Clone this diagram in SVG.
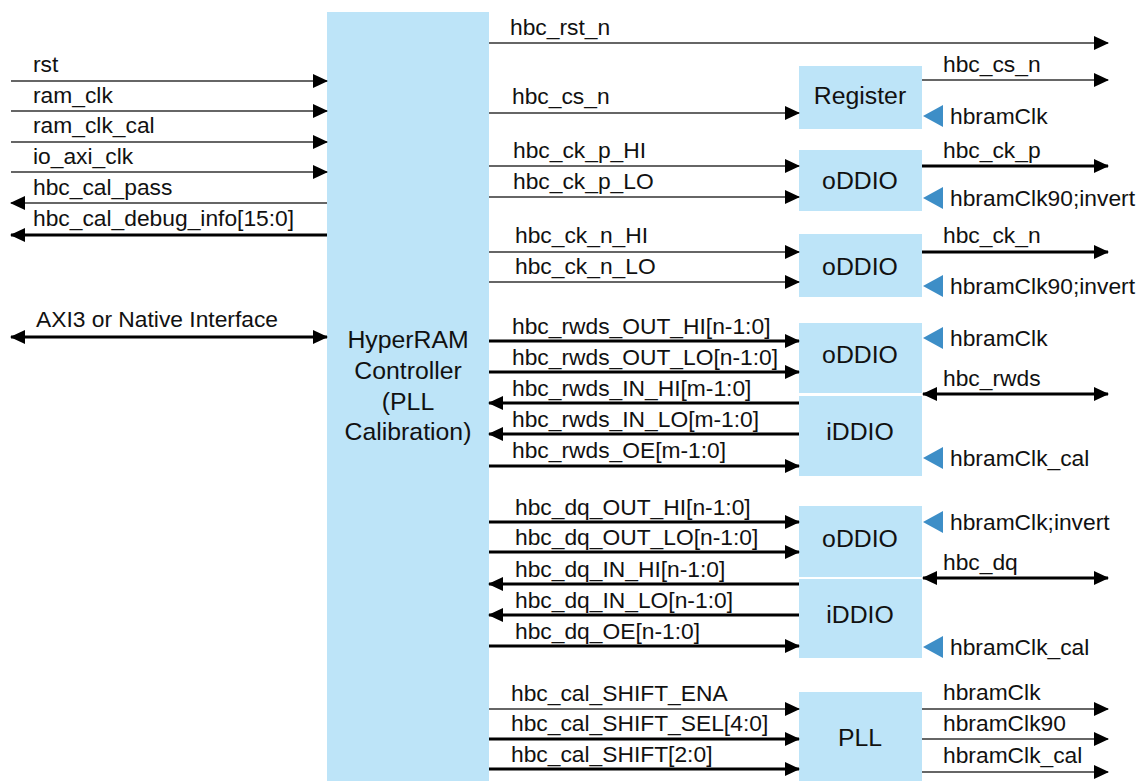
<svg xmlns="http://www.w3.org/2000/svg" width="1139" height="781" viewBox="0 0 1139 781">
<defs>
<style>
.box{fill:#bde4f8;stroke:none}
.lbl{font-family:"Liberation Sans",Arial,sans-serif;font-size:22.8px;fill:#111}
.btxt{font-family:"Liberation Sans",Arial,sans-serif;font-size:24.8px;fill:#111;text-anchor:middle}
.thin{stroke:#333;stroke-width:1.4;fill:none}
.thick{stroke:#000;stroke-width:3;fill:none}
.clk{fill:#3d8ec7}
.arr{marker-end:url(#ah)}
.arrs{marker-start:url(#ah)}
</style>
<marker id="ah" markerUnits="userSpaceOnUse" markerWidth="15" markerHeight="14" refX="14" refY="7" orient="auto-start-reverse">
<path d="M0,0 L15,7 L0,14 z" fill="#000"/>
</marker>
</defs>
<rect width="1139" height="781" fill="#fff"/>

<g id="controller">
<rect class="box" x="327" y="12" width="162" height="769"/>
<text class="btxt" x="408" y="348">HyperRAM</text>
<text class="btxt" x="408" y="379">Controller</text>
<text class="btxt" x="408" y="410">(PLL</text>
<text class="btxt" x="408" y="440">Calibration)</text>
</g>

<g id="register">
<rect class="box" x="799" y="66" width="123" height="63"/>
<text class="btxt" x="860" y="104">Register</text>
<polygon class="clk" points="923,116 943,105 943,127"/>
<text class="lbl" x="950" y="124">hbramClk</text>
</g>

<g id="oddio-ck-p">
<rect class="box" x="799" y="150" width="123" height="61"/>
<text class="btxt" x="860" y="189">oDDIO</text>
<polygon class="clk" points="923,198 943,187 943,209"/>
<text class="lbl" x="950" y="206">hbramClk90;invert</text>
</g>

<g id="oddio-ck-n">
<rect class="box" x="799" y="234" width="123" height="63"/>
<text class="btxt" x="860" y="275">oDDIO</text>
<polygon class="clk" points="923,286 943,275 943,297"/>
<text class="lbl" x="950" y="294">hbramClk90;invert</text>
</g>

<g id="oddio-rwds">
<rect class="box" x="799" y="323" width="123" height="70"/>
<text class="btxt" x="860" y="363">oDDIO</text>
<polygon class="clk" points="923,338 943,327 943,349"/>
<text class="lbl" x="950" y="346">hbramClk</text>
</g>

<g id="iddio-rwds">
<rect class="box" x="799" y="396" width="123" height="80"/>
<text class="btxt" x="860" y="440">iDDIO</text>
<polygon class="clk" points="923,458 943,447 943,469"/>
<text class="lbl" x="950" y="466">hbramClk_cal</text>
</g>

<g id="oddio-dq">
<rect class="box" x="799" y="506" width="123" height="71"/>
<text class="btxt" x="860" y="547">oDDIO</text>
<polygon class="clk" points="923,522 943,511 943,533"/>
<text class="lbl" x="950" y="530">hbramClk;invert</text>
</g>

<g id="iddio-dq">
<rect class="box" x="799" y="579" width="123" height="79"/>
<text class="btxt" x="860" y="623">iDDIO</text>
<polygon class="clk" points="923,647 943,636 943,658"/>
<text class="lbl" x="950" y="655">hbramClk_cal</text>
</g>

<g id="pll">
<rect class="box" x="799" y="692" width="123" height="89"/>
<text class="btxt" x="860" y="746">PLL</text>
</g>

<g id="connectors">
<line class="thin arr" x1="11" y1="81" x2="327" y2="81"/>
<text class="lbl" x="33" y="72">rst</text>
<line class="thin arr" x1="11" y1="111" x2="327" y2="111"/>
<text class="lbl" x="33" y="103">ram_clk</text>
<line class="thin arr" x1="11" y1="142" x2="327" y2="142"/>
<text class="lbl" x="33" y="133">ram_clk_cal</text>
<line class="thin arr" x1="11" y1="172" x2="327" y2="172"/>
<text class="lbl" x="33" y="164">io_axi_clk</text>
<line class="thin arrs" x1="11" y1="203" x2="327" y2="203"/>
<text class="lbl" x="33" y="195">hbc_cal_pass</text>
<line class="thick arrs" x1="11" y1="235" x2="327" y2="235"/>
<text class="lbl" x="33" y="226">hbc_cal_debug_info[15:0]</text>
<line class="thick arr arrs" x1="11" y1="337" x2="327" y2="337"/>
<text class="lbl" x="36" y="327">AXI3 or Native Interface</text>

<line class="thin arr" x1="489" y1="43" x2="1108" y2="43"/>
<text class="lbl" x="510" y="35">hbc_rst_n</text>
<line class="thin arr" x1="489" y1="113" x2="799" y2="113"/>
<text class="lbl" x="512" y="104">hbc_cs_n</text>
<line class="thin arr" x1="489" y1="166" x2="799" y2="166"/>
<text class="lbl" x="513" y="158">hbc_ck_p_HI</text>
<line class="thin arr" x1="489" y1="197" x2="799" y2="197"/>
<text class="lbl" x="513" y="189">hbc_ck_p_LO</text>
<line class="thin arr" x1="489" y1="252" x2="799" y2="252"/>
<text class="lbl" x="515" y="243">hbc_ck_n_HI</text>
<line class="thin arr" x1="489" y1="282" x2="799" y2="282"/>
<text class="lbl" x="515" y="274">hbc_ck_n_LO</text>

<line class="thick arr" x1="489" y1="341" x2="799" y2="341"/>
<text class="lbl" x="512" y="334">hbc_rwds_OUT_HI[n-1:0]</text>
<line class="thick arr" x1="489" y1="372" x2="799" y2="372"/>
<text class="lbl" x="512" y="365">hbc_rwds_OUT_LO[n-1:0]</text>
<line class="thick arrs" x1="489" y1="403" x2="799" y2="403"/>
<text class="lbl" x="512" y="396">hbc_rwds_IN_HI[m-1:0]</text>
<line class="thick arrs" x1="489" y1="434" x2="799" y2="434"/>
<text class="lbl" x="512" y="427">hbc_rwds_IN_LO[m-1:0]</text>
<line class="thick arr" x1="489" y1="466" x2="799" y2="466"/>
<text class="lbl" x="512" y="458">hbc_rwds_OE[m-1:0]</text>

<line class="thick arr" x1="489" y1="522" x2="799" y2="522"/>
<text class="lbl" x="515" y="515">hbc_dq_OUT_HI[n-1:0]</text>
<line class="thick arr" x1="489" y1="552" x2="799" y2="552"/>
<text class="lbl" x="515" y="545">hbc_dq_OUT_LO[n-1:0]</text>
<line class="thick arrs" x1="489" y1="584" x2="799" y2="584"/>
<text class="lbl" x="515" y="577">hbc_dq_IN_HI[n-1:0]</text>
<line class="thick arrs" x1="489" y1="615" x2="799" y2="615"/>
<text class="lbl" x="515" y="608">hbc_dq_IN_LO[n-1:0]</text>
<line class="thick arr" x1="489" y1="646" x2="799" y2="646"/>
<text class="lbl" x="515" y="639">hbc_dq_OE[n-1:0]</text>

<line class="thin arr" x1="489" y1="709" x2="799" y2="709"/>
<text class="lbl" x="511" y="701">hbc_cal_SHIFT_ENA</text>
<line class="thick arr" x1="489" y1="739" x2="799" y2="739"/>
<text class="lbl" x="511" y="731">hbc_cal_SHIFT_SEL[4:0]</text>
<line class="thick arr" x1="489" y1="769" x2="799" y2="769"/>
<text class="lbl" x="511" y="762">hbc_cal_SHIFT[2:0]</text>

<line class="thin arr" x1="922" y1="80" x2="1108" y2="80"/>
<text class="lbl" x="943" y="72">hbc_cs_n</text>
<line class="thick arr" x1="922" y1="166" x2="1108" y2="166"/>
<text class="lbl" x="943" y="158">hbc_ck_p</text>
<line class="thick arr" x1="922" y1="252" x2="1108" y2="252"/>
<text class="lbl" x="943" y="243">hbc_ck_n</text>
<line class="thick arr arrs" x1="923" y1="394" x2="1108" y2="394"/>
<text class="lbl" x="943" y="386">hbc_rwds</text>
<line class="thick arr arrs" x1="923" y1="578" x2="1108" y2="578"/>
<text class="lbl" x="943" y="570">hbc_dq</text>
<line class="thin arr" x1="922" y1="709" x2="1108" y2="709"/>
<text class="lbl" x="943" y="700">hbramClk</text>
<line class="thin arr" x1="922" y1="739" x2="1108" y2="739"/>
<text class="lbl" x="943" y="731">hbramClk90</text>
<line class="thin arr" x1="922" y1="772" x2="1108" y2="772"/>
<text class="lbl" x="943" y="763">hbramClk_cal</text>
</g>
</svg>
